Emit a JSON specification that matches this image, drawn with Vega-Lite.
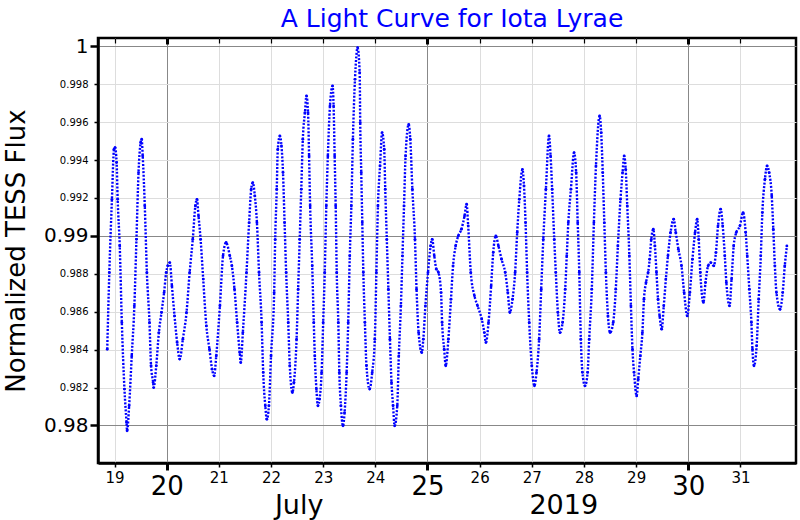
{
  "$schema": "https://vega.github.io/schema/vega-lite/v6.json",
  "width": 698,
  "height": 425,
  "autosize": {"type": "none"},
  "padding": {"left": 98, "top": 38, "right": 2, "bottom": 57},
  "title": {"text": "A Light Curve for Iota Lyrae", "color": "#0000ff", "fontSize": 25, "fontWeight": "normal", "font": "DejaVu Sans", "anchor": "middle", "offset": 4, "dx": 5},
  "data": {"values": [
    {"day":18.86,"flux":0.98402},{"day":18.90,"flux":0.98807},{"day":18.95,"flux":0.99193},{"day":18.99,"flux":0.99457},{"day":19.01,"flux":0.99466},{"day":19.04,"flux":0.99387},{"day":19.06,"flux":0.99193},{"day":19.10,"flux":0.98947},{"day":19.14,"flux":0.98543},{"day":19.19,"flux":0.98192},{"day":19.23,"flux":0.98016},{"day":19.24,"flux":0.97972},{"day":19.28,"flux":0.98104},{"day":19.33,"flux":0.98367},{"day":19.38,"flux":0.98631},{"day":19.42,"flux":0.98982},{"day":19.46,"flux":0.99334},{"day":19.50,"flux":0.99492},{"day":19.52,"flux":0.9951},{"day":19.54,"flux":0.99422},{"day":19.58,"flux":0.99158},{"day":19.62,"flux":0.98807},{"day":19.67,"flux":0.98543},{"day":19.70,"flux":0.98315},{"day":19.74,"flux":0.98227},{"day":19.75,"flux":0.982},{"day":19.80,"flux":0.98315},{"day":19.85,"flux":0.9849},{"day":19.90,"flux":0.98596},{"day":19.95,"flux":0.98701},{"day":19.99,"flux":0.98807},{"day":20.02,"flux":0.98842},{"day":20.06,"flux":0.98859},{"day":20.10,"flux":0.98736},{"day":20.15,"flux":0.98578},{"day":20.20,"flux":0.98438},{"day":20.25,"flux":0.9835},{"day":20.31,"flux":0.98455},{"day":20.38,"flux":0.98596},{"day":20.44,"flux":0.98807},{"day":20.50,"flux":0.98982},{"day":20.55,"flux":0.99158},{"day":20.58,"flux":0.99193},{"day":20.61,"flux":0.99105},{"day":20.65,"flux":0.98982},{"day":20.70,"flux":0.98772},{"day":20.76,"flux":0.98525},{"day":20.82,"flux":0.98402},{"day":20.87,"flux":0.98297},{"day":20.91,"flux":0.98262},{"day":20.95,"flux":0.98367},{"day":21.02,"flux":0.98631},{"day":21.08,"flux":0.98895},{"day":21.14,"flux":0.98965},{"day":21.21,"flux":0.98895},{"day":21.25,"flux":0.98842},{"day":21.30,"flux":0.98719},{"day":21.35,"flux":0.98543},{"day":21.40,"flux":0.98385},{"day":21.42,"flux":0.98332},{"day":21.46,"flux":0.9849},{"day":21.53,"flux":0.98807},{"day":21.58,"flux":0.9907},{"day":21.62,"flux":0.99246},{"day":21.65,"flux":0.99281},{"day":21.69,"flux":0.99211},{"day":21.73,"flux":0.9907},{"day":21.77,"flux":0.98807},{"day":21.82,"flux":0.98543},{"day":21.85,"flux":0.9828},{"day":21.89,"flux":0.98104},{"day":21.92,"flux":0.98033},{"day":21.96,"flux":0.98104},{"day":22.00,"flux":0.98367},
    {"day":22.06,"flux":0.98701},{"day":22.08,"flux":0.98982},{"day":22.11,"flux":0.99246},{"day":22.13,"flux":0.99457},{"day":22.17,"flux":0.99527},{"day":22.20,"flux":0.99475},{"day":22.23,"flux":0.99334},{"day":22.26,"flux":0.9907},{"day":22.29,"flux":0.98807},{"day":22.33,"flux":0.98543},{"day":22.36,"flux":0.98315},{"day":22.41,"flux":0.98174},{"day":22.44,"flux":0.98227},{"day":22.49,"flux":0.98455},{"day":22.52,"flux":0.98719},{"day":22.55,"flux":0.98982},{"day":22.58,"flux":0.99246},{"day":22.61,"flux":0.9951},{"day":22.65,"flux":0.9965},{"day":22.68,"flux":0.99738},{"day":22.71,"flux":0.9965},{"day":22.73,"flux":0.99422},{"day":22.75,"flux":0.99158},{"day":22.79,"flux":0.98842},{"day":22.82,"flux":0.98543},{"day":22.84,"flux":0.98367},{"day":22.87,"flux":0.98192},{"day":22.90,"flux":0.98104},{"day":22.93,"flux":0.98139},{"day":22.97,"flux":0.9828},{"day":23.00,"flux":0.98543},{"day":23.03,"flux":0.98807},{"day":23.06,"flux":0.99158},{"day":23.09,"flux":0.99422},{"day":23.13,"flux":0.99685},{"day":23.18,"flux":0.99791},{"day":23.20,"flux":0.99685},{"day":23.22,"flux":0.99422},{"day":23.24,"flux":0.99158},{"day":23.26,"flux":0.98807},{"day":23.29,"flux":0.98543},{"day":23.31,"flux":0.9828},{"day":23.34,"flux":0.98104},{"day":23.38,"flux":0.97998},{"day":23.41,"flux":0.98068},{"day":23.45,"flux":0.9828},{"day":23.48,"flux":0.98543},{"day":23.51,"flux":0.98895},{"day":23.54,"flux":0.99158},{"day":23.57,"flux":0.9951},{"day":23.61,"flux":0.99826},{"day":23.66,"flux":0.99993},{"day":23.70,"flux":0.99861},{"day":23.71,"flux":0.99598},{"day":23.73,"flux":0.99334},{"day":23.75,"flux":0.9907},{"day":23.77,"flux":0.98807},{"day":23.80,"flux":0.98543},{"day":23.83,"flux":0.98315},{"day":23.89,"flux":0.98192},{"day":23.94,"flux":0.9828},{"day":23.99,"flux":0.98455},{"day":24.02,"flux":0.98807},{"day":24.05,"flux":0.99158},{"day":24.09,"flux":0.99369},{"day":24.13,"flux":0.99545},{"day":24.17,"flux":0.99457},{"day":24.19,"flux":0.99246},{"day":24.22,"flux":0.98982},{"day":24.25,"flux":0.98719},{"day":24.28,"flux":0.98455},{"day":24.31,"flux":0.98227},{"day":24.34,"flux":0.98104},{"day":24.37,"flux":0.97998},{"day":24.42,"flux":0.98104},{"day":24.45,"flux":0.98367},{"day":24.49,"flux":0.98631},{"day":24.52,"flux":0.98895},{"day":24.55,"flux":0.99158},{"day":24.58,"flux":0.99422},{"day":24.64,"flux":0.99588},{"day":24.67,"flux":0.9951},{"day":24.71,"flux":0.99246},{"day":24.76,"flux":0.98982},{"day":24.79,"flux":0.98719},{"day":24.83,"flux":0.9849},{"day":24.89,"flux":0.98385},{"day":24.92,"flux":0.98455},{"day":24.96,"flux":0.98631},{"day":25.01,"flux":0.98807},{"day":25.06,"flux":0.98947},{"day":25.09,"flux":0.98982},{"day":25.13,"flux":0.98895},
    {"day":25.17,"flux":0.98824},{"day":25.21,"flux":0.98807},{"day":25.26,"flux":0.98701},{"day":25.28,"flux":0.98543},{"day":25.32,"flux":0.98402},{"day":25.35,"flux":0.98315},{"day":25.40,"flux":0.98455},{"day":25.45,"flux":0.98666},{"day":25.49,"flux":0.98842},{"day":25.54,"flux":0.98947},{"day":25.59,"flux":0.99},{"day":25.65,"flux":0.99035},{"day":25.71,"flux":0.99105},{"day":25.75,"flux":0.99167},{"day":25.78,"flux":0.99053},{"day":25.83,"flux":0.98807},{"day":25.90,"flux":0.98684},{"day":25.96,"flux":0.98631},{"day":26.04,"flux":0.98561},{"day":26.09,"flux":0.9849},{"day":26.12,"flux":0.98438},{"day":26.17,"flux":0.98543},{"day":26.22,"flux":0.98736},{"day":26.26,"flux":0.98912},{"day":26.31,"flux":0.99},{"day":26.36,"flux":0.98947},{"day":26.42,"flux":0.98877},{"day":26.49,"flux":0.98807},{"day":26.54,"flux":0.98701},{"day":26.58,"flux":0.98596},{"day":26.63,"flux":0.98666},{"day":26.68,"flux":0.98807},{"day":26.72,"flux":0.99018},{"day":26.76,"flux":0.99193},{"day":26.82,"flux":0.99351},{"day":26.85,"flux":0.99264},{"day":26.88,"flux":0.9907},{"day":26.91,"flux":0.98807},{"day":26.95,"flux":0.98543},{"day":27.00,"flux":0.98315},{"day":27.05,"flux":0.98209},{"day":27.09,"flux":0.9828},{"day":27.14,"flux":0.98455},{"day":27.18,"flux":0.98719},{"day":27.22,"flux":0.98982},{"day":27.27,"flux":0.99246},{"day":27.33,"flux":0.99527},{"day":27.36,"flux":0.99422},{"day":27.39,"flux":0.99246},{"day":27.43,"flux":0.98982},{"day":27.46,"flux":0.98807},{"day":27.50,"flux":0.98596},{"day":27.54,"flux":0.9849},{"day":27.59,"flux":0.98543},{"day":27.64,"flux":0.98719},{"day":27.67,"flux":0.98895},{"day":27.70,"flux":0.9907},{"day":27.75,"flux":0.99246},{"day":27.81,"flux":0.99439},{"day":27.85,"flux":0.99334},{"day":27.88,"flux":0.9907},{"day":27.91,"flux":0.98807},{"day":27.94,"flux":0.98455},{"day":27.97,"flux":0.9828},{"day":28.02,"flux":0.98209},{"day":28.07,"flux":0.9828},{"day":28.10,"flux":0.98455},{"day":28.15,"flux":0.98719},{"day":28.19,"flux":0.9907},{"day":28.23,"flux":0.99369},{"day":28.30,"flux":0.99633},{"day":28.33,"flux":0.99545},{"day":28.36,"flux":0.99334},{"day":28.39,"flux":0.9907},{"day":28.42,"flux":0.98807},{"day":28.46,"flux":0.98578},{"day":28.50,"flux":0.9849},
    {"day":28.56,"flux":0.98543},{"day":28.61,"flux":0.98719},{"day":28.65,"flux":0.98947},{"day":28.70,"flux":0.99193},{"day":28.74,"flux":0.99334},{"day":28.77,"flux":0.99422},{"day":28.80,"flux":0.99351},{"day":28.83,"flux":0.99158},{"day":28.87,"flux":0.98895},{"day":28.90,"flux":0.98631},{"day":28.93,"flux":0.98402},{"day":28.96,"flux":0.9828},{"day":29.01,"flux":0.98156},{"day":29.04,"flux":0.98244},{"day":29.08,"flux":0.98367},{"day":29.12,"flux":0.9849},{"day":29.15,"flux":0.98666},{"day":29.19,"flux":0.98754},{"day":29.23,"flux":0.98807},{"day":29.26,"flux":0.98877},{"day":29.29,"flux":0.98982},{"day":29.33,"flux":0.99035},{"day":29.36,"flux":0.98947},{"day":29.39,"flux":0.98807},{"day":29.42,"flux":0.98666},{"day":29.45,"flux":0.98578},{"day":29.49,"flux":0.98508},{"day":29.53,"flux":0.98631},{"day":29.57,"flux":0.98772},{"day":29.61,"flux":0.98895},{"day":29.66,"flux":0.99018},{"day":29.72,"flux":0.99088},{"day":29.76,"flux":0.99018},{"day":29.81,"flux":0.9893},{"day":29.87,"flux":0.98842},{"day":29.92,"flux":0.98701},{"day":29.98,"flux":0.98578},{"day":30.03,"flux":0.98701},{"day":30.08,"flux":0.98877},{"day":30.13,"flux":0.99018},{"day":30.17,"flux":0.99088},{"day":30.20,"flux":0.98982},{"day":30.23,"flux":0.98807},{"day":30.29,"flux":0.98649},{"day":30.33,"flux":0.98754},{"day":30.38,"flux":0.98842},{"day":30.43,"flux":0.98859},{"day":30.49,"flux":0.98842},{"day":30.53,"flux":0.98912},{"day":30.57,"flux":0.99053},{"day":30.62,"flux":0.99141},{"day":30.66,"flux":0.99053},{"day":30.70,"flux":0.98895},{"day":30.73,"flux":0.98754},{"day":30.79,"flux":0.98631},{"day":30.83,"flux":0.98772},{"day":30.87,"flux":0.98947},{"day":30.92,"flux":0.99018},{"day":30.99,"flux":0.99053},{"day":31.05,"flux":0.99123},{"day":31.10,"flux":0.99018},{"day":31.13,"flux":0.98895},{"day":31.17,"flux":0.98719},{"day":31.21,"flux":0.98543},{"day":31.23,"flux":0.98402},{"day":31.26,"flux":0.98315},{"day":31.31,"flux":0.9842},{"day":31.35,"flux":0.98666},{"day":31.39,"flux":0.98895},{"day":31.42,"flux":0.99123},{"day":31.47,"flux":0.99299},{"day":31.51,"flux":0.99369},{"day":31.55,"flux":0.99334},{"day":31.60,"flux":0.99211},{"day":31.63,"flux":0.99035},{"day":31.66,"flux":0.98842},{"day":31.69,"flux":0.98701},{"day":31.76,"flux":0.98613},{"day":31.81,"flux":0.98701},{"day":31.85,"flux":0.98842},{"day":31.89,"flux":0.98947}
  ]},
  "layer": [
    {
      "mark": {"type": "line", "color": "#0000ff", "strokeWidth": 2.4, "strokeDash": [2, 1.6], "interpolate": "monotone"},
      "encoding": {
        "x": {"field": "day", "type": "quantitative", "scale": {"domain": [18.683, 32.065], "nice": false, "zero": false},
          "axis": {
            "orient": "bottom",
            "values": [19,20,21,22,23,24,25,26,27,28,29,30,31],
            "format": "d",
            "grid": true,
            "gridColor": {"condition": {"test": "datum.value % 5 == 0", "value": "#888888"}, "value": "#dddddd"},
            "gridWidth": 1,
            "domain": true, "domainColor": "black", "domainWidth": 2.5,
            "ticks": true, "tickColor": "black",
            "tickSize": {"condition": {"test": "datum.value % 5 == 0", "value": 7}, "value": 4},
            "tickWidth": {"condition": {"test": "datum.value % 5 == 0", "value": 3}, "value": 1.5},
            "labelFont": "DejaVu Sans", "labelColor": "black",
            "labelFontSize": {"condition": {"test": "datum.value % 5 == 0", "value": 26}, "value": 15},
            "labelBaseline": "top",
            "labelPadding": 3,
            "labelFlush": false, "labelOverlap": false,
            "title": "July\u00a0\u00a0\u00a0\u00a0\u00a0\u00a0\u00a0\u00a0\u00a0\u00a0\u00a0\u00a0\u00a0\u00a0\u00a0\u00a0\u00a0\u00a0\u00a0\u00a0\u00a0\u00a0\u00a0\u00a02019",
            "titleFont": "DejaVu Sans", "titleFontSize": 27, "titleFontWeight": "normal", "titleColor": "black",
            "titleX": 338, "titleY": 50, "titleBaseline": "alphabetic", "titleAlign": "center"
          }},
        "y": {"field": "flux", "type": "quantitative", "scale": {"domain": [0.97802, 1.00044], "nice": false, "zero": false},
          "axis": {
            "values": [0.98,0.982,0.984,0.986,0.988,0.99,0.992,0.994,0.996,0.998,1],
            "labelExpr": "format(datum.value, '.3~f')",
            "grid": true,
            "gridColor": {"condition": {"test": "datum.value == 0.98 || datum.value == 0.99 || datum.value == 1", "value": "#888888"}, "value": "#dddddd"},
            "gridWidth": 1,
            "domain": true, "domainColor": "black", "domainWidth": 2.5,
            "ticks": true, "tickColor": "black",
            "tickSize": {"condition": {"test": "datum.value == 0.98 || datum.value == 0.99 || datum.value == 1", "value": 8}, "value": 4},
            "tickWidth": {"condition": {"test": "datum.value == 0.98 || datum.value == 0.99 || datum.value == 1", "value": 2.5}, "value": 1.5},
            "labelFont": "DejaVu Sans", "labelColor": "black",
            "labelFontSize": {"condition": {"test": "datum.value == 0.98 || datum.value == 0.99 || datum.value == 1", "value": 20}, "value": 10},
            "labelPadding": {"condition": {"test": "datum.value == 0.98 || datum.value == 0.99 || datum.value == 1", "value": 2}, "value": 6},
            "labelFlush": false, "labelOverlap": false,
            "title": "Normalized TESS Flux",
            "titleFont": "DejaVu Sans", "titleFontSize": 26, "titleFontWeight": "normal", "titleColor": "black",
            "titleX": -74, "titleBaseline": "alphabetic"
          }}
      }
    },
    {
      "mark": {"type": "point", "filled": true, "color": "#0000ff", "size": 8, "opacity": 1},
      "encoding": {
        "x": {"field": "day", "type": "quantitative",
          "axis": {
            "orient": "top",
            "values": [19,20,21,22,23,24,25,26,27,28,29,30,31],
            "labels": false, "grid": false, "domain": false, "title": null,
            "ticks": true, "tickColor": "black",
            "tickSize": {"condition": {"test": "datum.value % 5 == 0", "value": -6}, "value": -5},
            "tickWidth": {"condition": {"test": "datum.value % 5 == 0", "value": 3}, "value": 1.2}
          }},
        "y": {"field": "flux", "type": "quantitative"}
      }
    }
  ],
  "resolve": {"axis": {"x": "independent"}},
  "config": {
    "font": "DejaVu Sans",
    "view": {"stroke": "black", "strokeWidth": 2.5}
  }
}
